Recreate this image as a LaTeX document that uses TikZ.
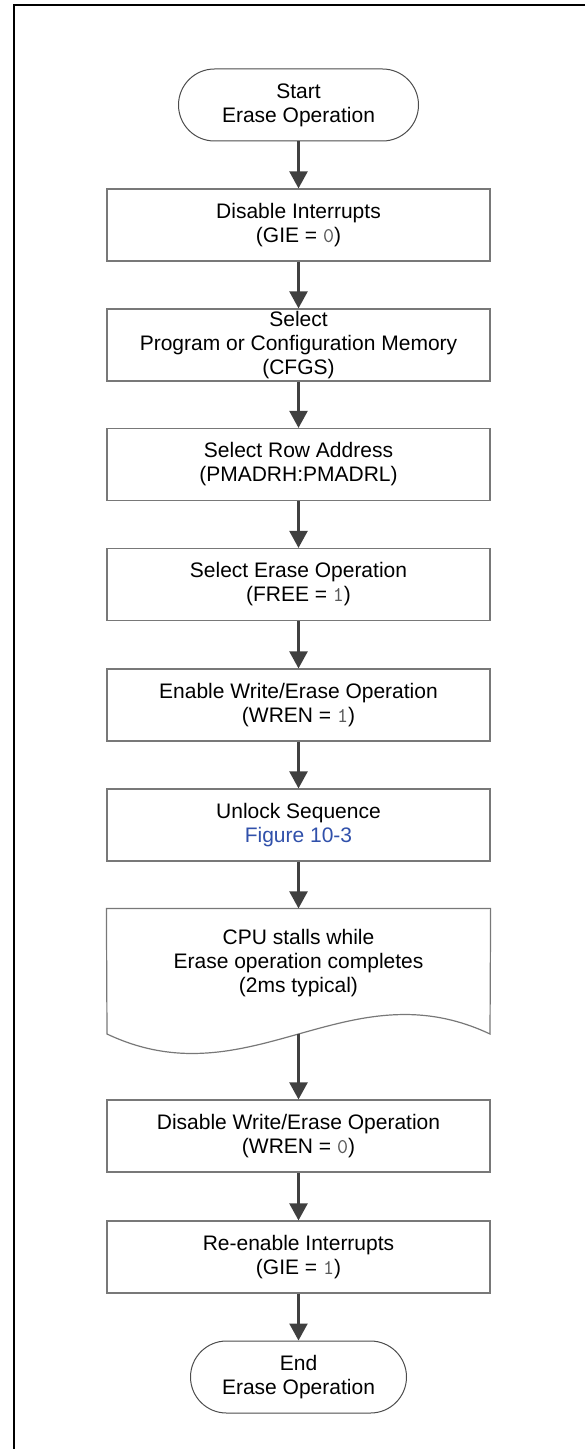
\documentclass[tikz,border=0pt]{standalone}
\usepackage{fontspec}
\setmainfont{Liberation Sans}
\usetikzlibrary{arrows.meta}
\definecolor{linegray}{RGB}{64,64,64}
\definecolor{boxgray}{RGB}{120,120,120}
\definecolor{bitgray}{RGB}{90,90,90}
\definecolor{linkblue}{RGB}{48,80,170}
\newcommand{\bitval}[1]{{\ttfamily\color{bitgray}#1}}
\begin{document}
\begin{tikzpicture}[x=.5pt, y=-.5pt,
    every node/.style={font=\fontsize{10.5}{12}\selectfont, align=center},
    stepbox/.style={draw=boxgray, line width=.6pt, minimum width=191.5pt, minimum height=36pt, inner sep=0pt},
    termbox/.style={draw=black!70, line width=.5pt, rounded corners=18pt, minimum height=36pt, inner sep=0pt},
    flow/.style={draw=linegray, line width=1.2pt, -{Triangle[width=9pt,length=8.5pt]}}]
    \useasboundingbox (0,0) rectangle (585,1449);
\draw[line width=1pt] (585,4.8) -- (13.8,4.8) -- (13.8,1449);
\node[termbox, minimum width=120pt] (start) at (298.5,105) {Start\\Erase Operation};
\node[stepbox] (gie0) at (298.5,225) {Disable Interrupts\\(GIE = \bitval{0})};
\node[stepbox] (cfgs) at (298.5,345) {Select\\Program or Configuration Memory\\(CFGS)};
\node[stepbox] (row) at (298.5,464.5) {Select Row Address\\(PMADRH:PMADRL)};
\node[stepbox] (free) at (298.5,584.5) {Select Erase Operation\\(FREE = \bitval{1})};
\node[stepbox] (wren1) at (298.5,705) {Enable Write/Erase Operation\\(WREN = \bitval{1})};
\node[stepbox] (unlock) at (298.5,825) {Unlock Sequence\\\textcolor{linkblue}{Figure 10-3}};
\node[stepbox, draw=none, minimum height=54pt] (stall) at (298.5,963) {CPU stalls while\\Erase operation completes\\(2ms typical)};
\draw[boxgray, line width=.6pt] (107,1034) -- (stall.north west) -- (stall.north east) -- (490,1034)
    .. controls (347,966.5) and (250,1101.5) .. (107,1034) -- cycle;
\coordinate (wave) at (298.5,1034);
\node[stepbox] (wren0) at (298.5,1136) {Disable Write/Erase Operation\\(WREN = \bitval{0})};
\node[stepbox] (gie1) at (298.5,1257) {Re-enable Interrupts\\(GIE = \bitval{1})};
\node[termbox, minimum width=108pt] (stop) at (298.5,1377) {End\\Erase Operation};
    \draw[flow] (start) -- (gie0);
    \draw[flow] (gie0) -- (cfgs);
    \draw[flow] (cfgs) -- (row);
    \draw[flow] (row) -- (free);
    \draw[flow] (free) -- (wren1);
    \draw[flow] (wren1) -- (unlock);
    \draw[flow] (unlock) -- (stall);
    \draw[flow] (wave) -- (wren0);
    \draw[flow] (wren0) -- (gie1);
    \draw[flow] (gie1) -- (stop);
    \end{tikzpicture}
\end{document}
